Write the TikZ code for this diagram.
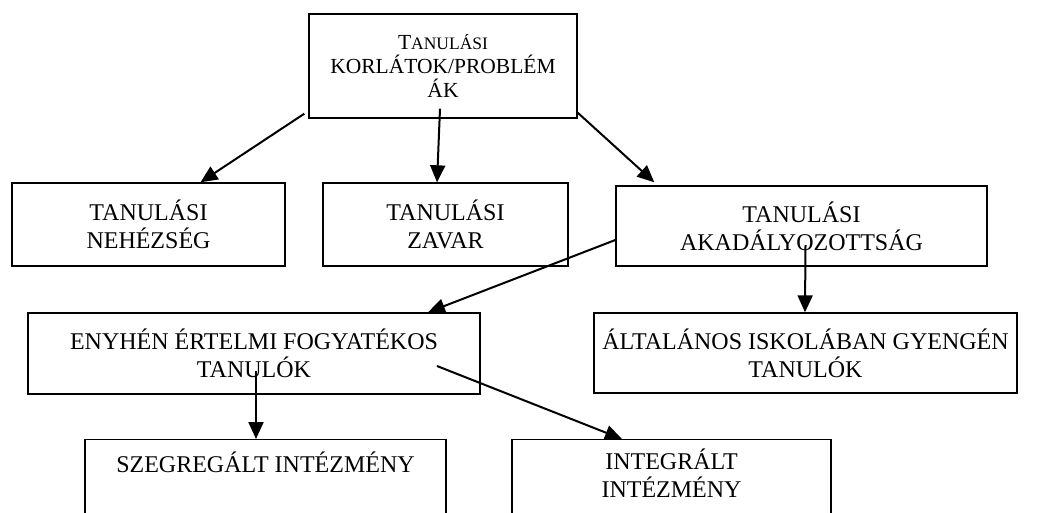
\documentclass[tikz,border=0pt]{standalone}
\usepackage{fontspec}
\setmainfont{Liberation Serif}
\usetikzlibrary{arrows.meta,positioning}

\begin{document}
\begin{tikzpicture}[x=1pt, y=-1pt, >={Triangle[length=17pt,width=15pt]}, every node/.style={font=\fontsize{24}{28}\selectfont}, box/.style={draw,line width=1.4pt,inner sep=0pt,align=center}, arr/.style={->,line width=2pt}]
\useasboundingbox (0,0) rectangle (1062,512);
\clip (0,0) rectangle (1062,512);
\node[box,minimum width=268pt,minimum height=104pt,font=\fontsize{21.5}{24}\selectfont] (top) at (443,66) {T{\fontsize{17.5}{24}\selectfont ANULÁSI}\\KORLÁTOK/PROBLÉM\\ÁK};
\node[box,minimum width=273pt,minimum height=83pt] (nehez) at (148.5,224.5) {TANULÁSI\\NEHÉZSÉG};
\node[box,minimum width=245pt,minimum height=83pt] (zavar) at (445.5,224.5) {TANULÁSI\\ZAVAR};
\node[box,minimum width=371pt,minimum height=80pt] (akad) at (801.5,226) {TANULÁSI\\AKADÁLYOZOTTSÁG};
\node[box,minimum width=452pt,minimum height=81pt] (enyhe) at (254,353.5) {ENYHÉN ÉRTELMI FOGYATÉKOS\\TANULÓK};
\node[box,minimum width=423pt,minimum height=80pt] (altal) at (805.5,353) {ÁLTALÁNOS ISKOLÁBAN GYENGÉN\\TANULÓK};
\node[box,minimum width=361pt,anchor=north,inner ysep=12pt,text depth=90pt] (szegr) at (265.5,439) {SZEGREGÁLT INTÉZMÉNY};
\node[box,minimum width=319pt,anchor=north,inner ysep=9pt,text depth=70pt] (integr) at (671.5,439) {INTEGRÁLT\\INTÉZMÉNY};
\draw[arr] ([shift={(-4pt,5pt)}]top.south west) -- ([xshift=52pt]nehez.north);
\draw[arr] ([shift={(-3pt,10pt)}]top.south) -- ([xshift=-8.5pt]zavar.north);
\draw[arr] ([yshift=6pt]top.south east) -- ([shift={(39pt,3pt)}]akad.north west);
\draw[arr] ([yshift=-14pt]akad.west) -- ([xshift=174pt]enyhe.north);
\draw[arr] ([shift={(4pt,-19pt)}]akad.center) -- ([xshift=-0.5pt]altal.north);
\draw[arr] ([shift={(2pt,-17pt)}]enyhe.center) -- ([xshift=-9.5pt]szegr.north);
\draw[arr] ([shift={(183pt,-12.5pt)}]enyhe.center) -- ([xshift=-49.5pt]integr.north);
\end{tikzpicture}
\end{document}
